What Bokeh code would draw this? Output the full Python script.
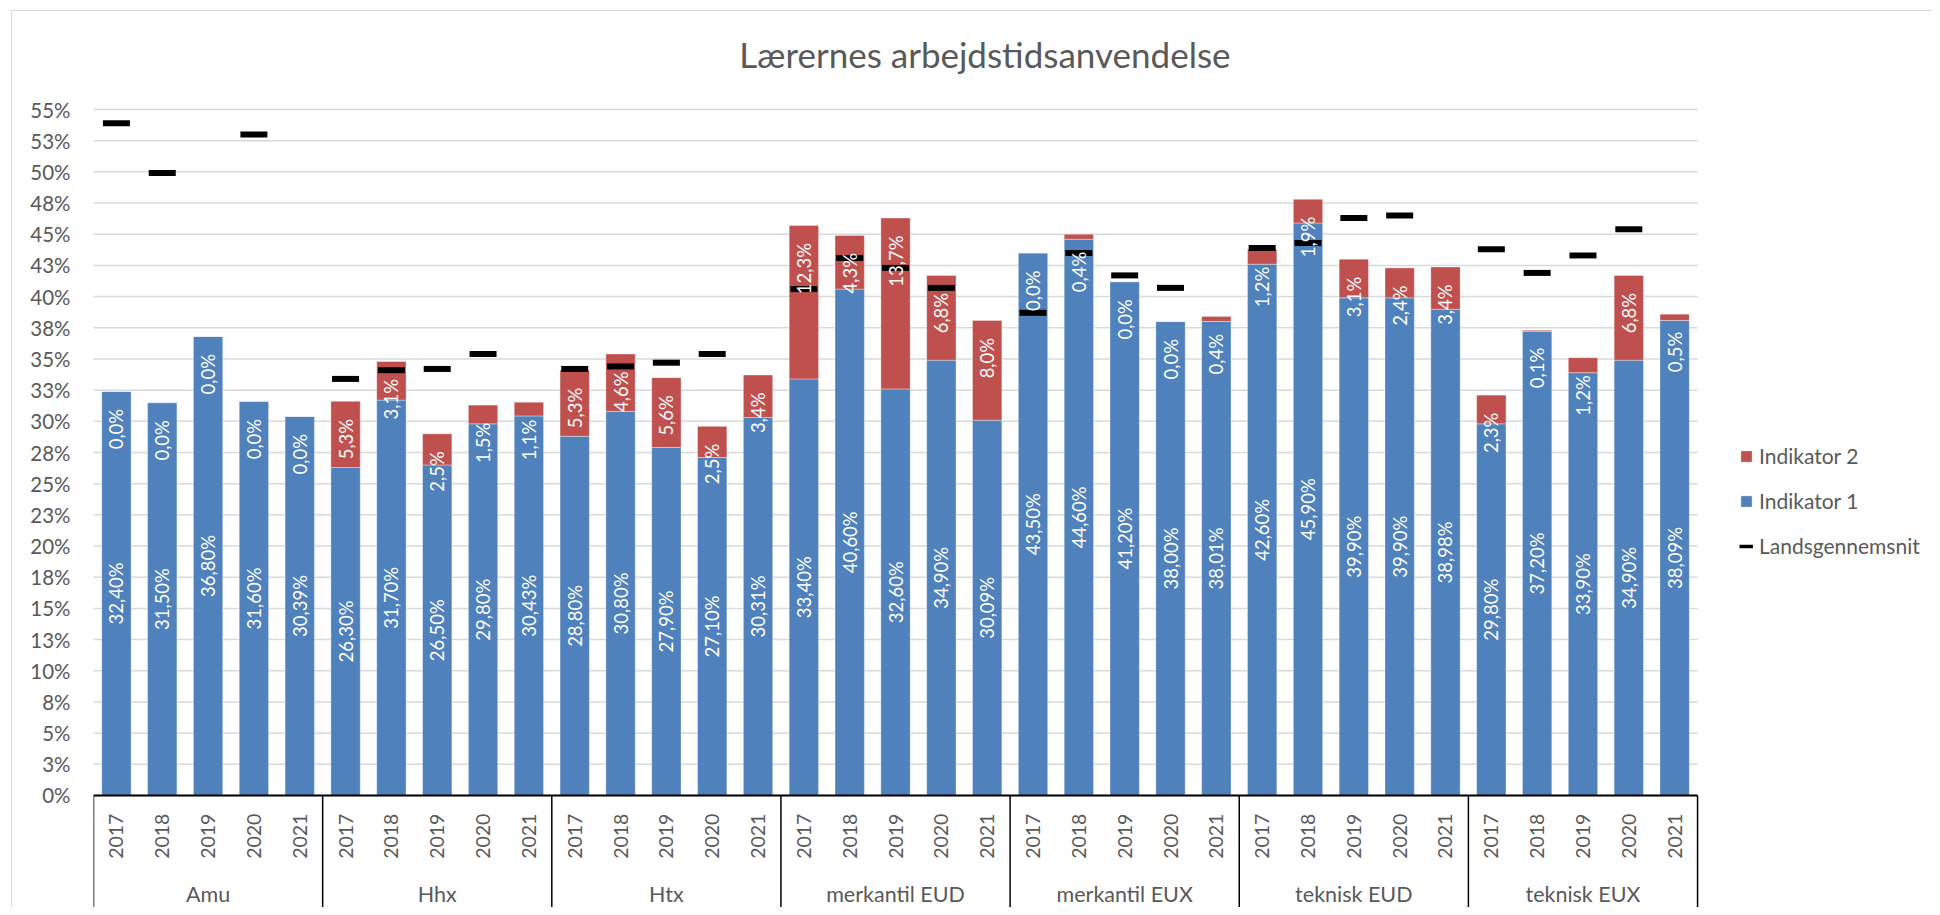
import math
from bokeh.plotting import figure
from bokeh.models import (ColumnDataSource, Range1d, FixedTicker, Legend, LegendItem,
                          InlineStyleSheet)
from bokeh.core.properties import value
from bokeh.embed import file_html
from bokeh.resources import INLINE

# ---------------- data ----------------
groups = ["Amu", "Hhx", "Htx", "merkantil EUD", "merkantil EUX", "teknisk EUD", "teknisk EUX"]
years = ["2017", "2018", "2019", "2020", "2021"]

indikator1 = [
    32.40, 31.50, 36.80, 31.60, 30.39,
    26.30, 31.70, 26.50, 29.80, 30.43,
    28.80, 30.80, 27.90, 27.10, 30.31,
    33.40, 40.60, 32.60, 34.90, 30.09,
    43.50, 44.60, 41.20, 38.00, 38.01,
    42.60, 45.90, 39.90, 39.90, 38.98,
    29.80, 37.20, 33.90, 34.90, 38.09,
]
indikator2 = [
    0.0, 0.0, 0.0, 0.0, 0.0,
    5.3, 3.1, 2.5, 1.5, 1.1,
    5.3, 4.6, 5.6, 2.5, 3.4,
    12.3, 4.3, 13.7, 6.8, 8.0,
    0.0, 0.4, 0.0, 0.0, 0.4,
    1.2, 1.9, 3.1, 2.4, 3.4,
    2.3, 0.1, 1.2, 6.8, 0.5,
]
nan = float("nan")
landsgennemsnit = [
    53.9, 49.9, nan, 53.0, nan,
    33.4, 34.1, 34.2, 35.4, nan,
    34.2, 34.4, 34.7, 35.4, nan,
    40.6, 43.1, 42.3, 40.7, nan,
    38.7, 43.5, 41.7, 40.7, nan,
    43.9, 44.3, 46.3, 46.5, nan,
    43.8, 41.9, 43.3, 45.4, nan,
]

tick_values = [0.0, 2.5, 5.0, 7.5, 10.0, 12.5, 15.0, 17.5, 20.0, 22.5, 25.0, 27.5,
               30.0, 32.5, 35.0, 37.5, 40.0, 42.5, 45.0, 47.5, 50.0, 52.5, 55.0]
tick_labels = ["0%", "3%", "5%", "8%", "10%", "13%", "15%", "18%", "20%", "23%", "25%", "28%",
               "30%", "33%", "35%", "38%", "40%", "43%", "45%", "48%", "50%", "53%", "55%"]

title_text = "Lærernes arbejdstidsanvendelse"

# ---------------- styling ----------------
BLUE = "#4F81BD"
RED = "#C0504D"
GREY_TXT = "#595959"
FONT = "Lato"

n_years = len(years)
n_cat = len(groups) * n_years
cat_x = [i + 0.5 for i in range(n_cat)]                 # category centres on the x scale
cat_year = [years[i % n_years] for i in range(n_cat)]
totals = [a + b for a, b in zip(indikator1, indikator2)]

def fmt(v, d):
    return (f"{v:.{d}f}%").replace(".", ",")

source = ColumnDataSource(data=dict(
    x=cat_x,
    year=cat_year,
    ind1=indikator1,
    ind2=indikator2,
    lg=landsgennemsnit,
    ind1_mid=[a / 2 for a in indikator1],
    ind1_lbl=[fmt(a, 2) for a in indikator1],
    ind2_pos=[t - 1.4 for t in totals],
    ind2_lbl=[fmt(b, 1) for b in indikator2],
))

W, H = 1932, 907
LEFT = 93
PX_PER_CAT = 45.83
X_END = (W - LEFT) / PX_PER_CAT
Y_TOP = 63.74
Y_BOT = -8.98

p = figure(
    width=W, height=H,
    x_range=Range1d(0, X_END),
    y_range=Range1d(Y_BOT, Y_TOP),
    output_backend="svg", toolbar_location=None,
    min_border_left=LEFT, min_border_right=0, min_border_top=0, min_border_bottom=0,
)
p.outline_line_color = None
p.background_fill_color = "white"
p.border_fill_color = "white"
p.stylesheets = [InlineStyleSheet(css="""
:host::after {
  content: ""; position: absolute; left: 11px; top: 10px; width: 3000px; height: 3000px;
  border-left: 1px solid #d9d9d9; border-top: 1px solid #d9d9d9;
  pointer-events: none; box-sizing: border-box;
}
:host { overflow: hidden; }
""")]

# axes
p.xaxis.visible = False
p.xgrid.visible = False
p.ygrid.visible = False
p.yaxis.ticker = FixedTicker(ticks=tick_values)
p.yaxis.major_label_overrides = dict(zip(tick_values, tick_labels))
p.yaxis.axis_line_color = None
p.yaxis.major_tick_line_color = None
p.yaxis.minor_tick_line_color = None
p.yaxis.major_tick_out = 0
p.yaxis.major_tick_in = 0
p.yaxis.major_label_standoff = 23
p.yaxis.major_label_text_font = FONT
p.yaxis.major_label_text_font_size = "20.5px"
p.yaxis.major_label_text_color = GREY_TXT

# horizontal gridlines over the category span
p.segment(x0=[0] * len(tick_values), y0=tick_values, x1=[n_cat] * len(tick_values), y1=tick_values,
          line_color="#D9D9D9", line_width=1.5)

# bars
blue_r, red_r = p.vbar_stack(["ind1", "ind2"], x="x", width=0.64, fill_color=[BLUE, RED],
                             line_color="white", line_alpha=0.35, line_width=1, source=source)

# national average markers
p.scatter(x="x", y="lg", marker="dash", size=27, line_width=6, line_color="black", source=source)

# data labels
p.text(x="x", y="ind1_mid", text="ind1_lbl", angle=math.pi / 2, text_align="center",
       text_baseline="middle", text_color="white", text_font=value(FONT),
       text_font_size="18.5px", source=source)
p.text(x="x", y="ind2_pos", text="ind2_lbl", angle=math.pi / 2, text_align="right",
       text_baseline="middle", text_color="white", text_font=value(FONT),
       text_font_size="18.5px", source=source)

# two-level category axis
p.segment(x0=[0], y0=[0], x1=[n_cat], y1=[0], line_color="black", line_width=2)
sep_x = [i * n_years for i in range(len(groups) + 1)]
p.segment(x0=sep_x, y0=[0] * len(sep_x), x1=sep_x, y1=[Y_BOT] * len(sep_x),
          line_color="black", line_width=1.5)
p.text(x="x", y=-1.45, text="year", angle=math.pi / 2, text_align="right", text_baseline="middle",
       text_color=GREY_TXT, text_font=value(FONT), text_font_size="19.5px", source=source)
p.text(x=[i * n_years + n_years / 2 for i in range(len(groups))], y=[-7.87] * len(groups), text=groups,
       text_align="center", text_baseline="middle",
       text_color=GREY_TXT, text_font=value(FONT), text_font_size="21.5px")

# title
p.text(x=[19.45], y=[59.49], text=[title_text], text_align="center", text_baseline="middle",
       text_color=GREY_TXT, text_font=value(FONT), text_font_size="35px")

# legend
dash_r = p.line(x=[nan, nan], y=[nan, nan], line_color="black", line_width=3.5)
legend = Legend(items=[
    LegendItem(label="Indikator 2", renderers=[red_r]),
    LegendItem(label="Indikator 1", renderers=[blue_r]),
    LegendItem(label="Landsgennemsnit", renderers=[dash_r]),
], location=(1646, 349))
legend.padding = 0
legend.margin = 0
legend.spacing = 20
legend.glyph_width = 14
legend.glyph_height = 14
legend.label_standoff = 6
legend.label_text_font = FONT
legend.label_text_font_size = "21px"
legend.label_text_color = GREY_TXT
legend.border_line_color = None
legend.background_fill_alpha = 0
p.add_layout(legend)

open("out.html", "w").write(file_html(p, INLINE))
